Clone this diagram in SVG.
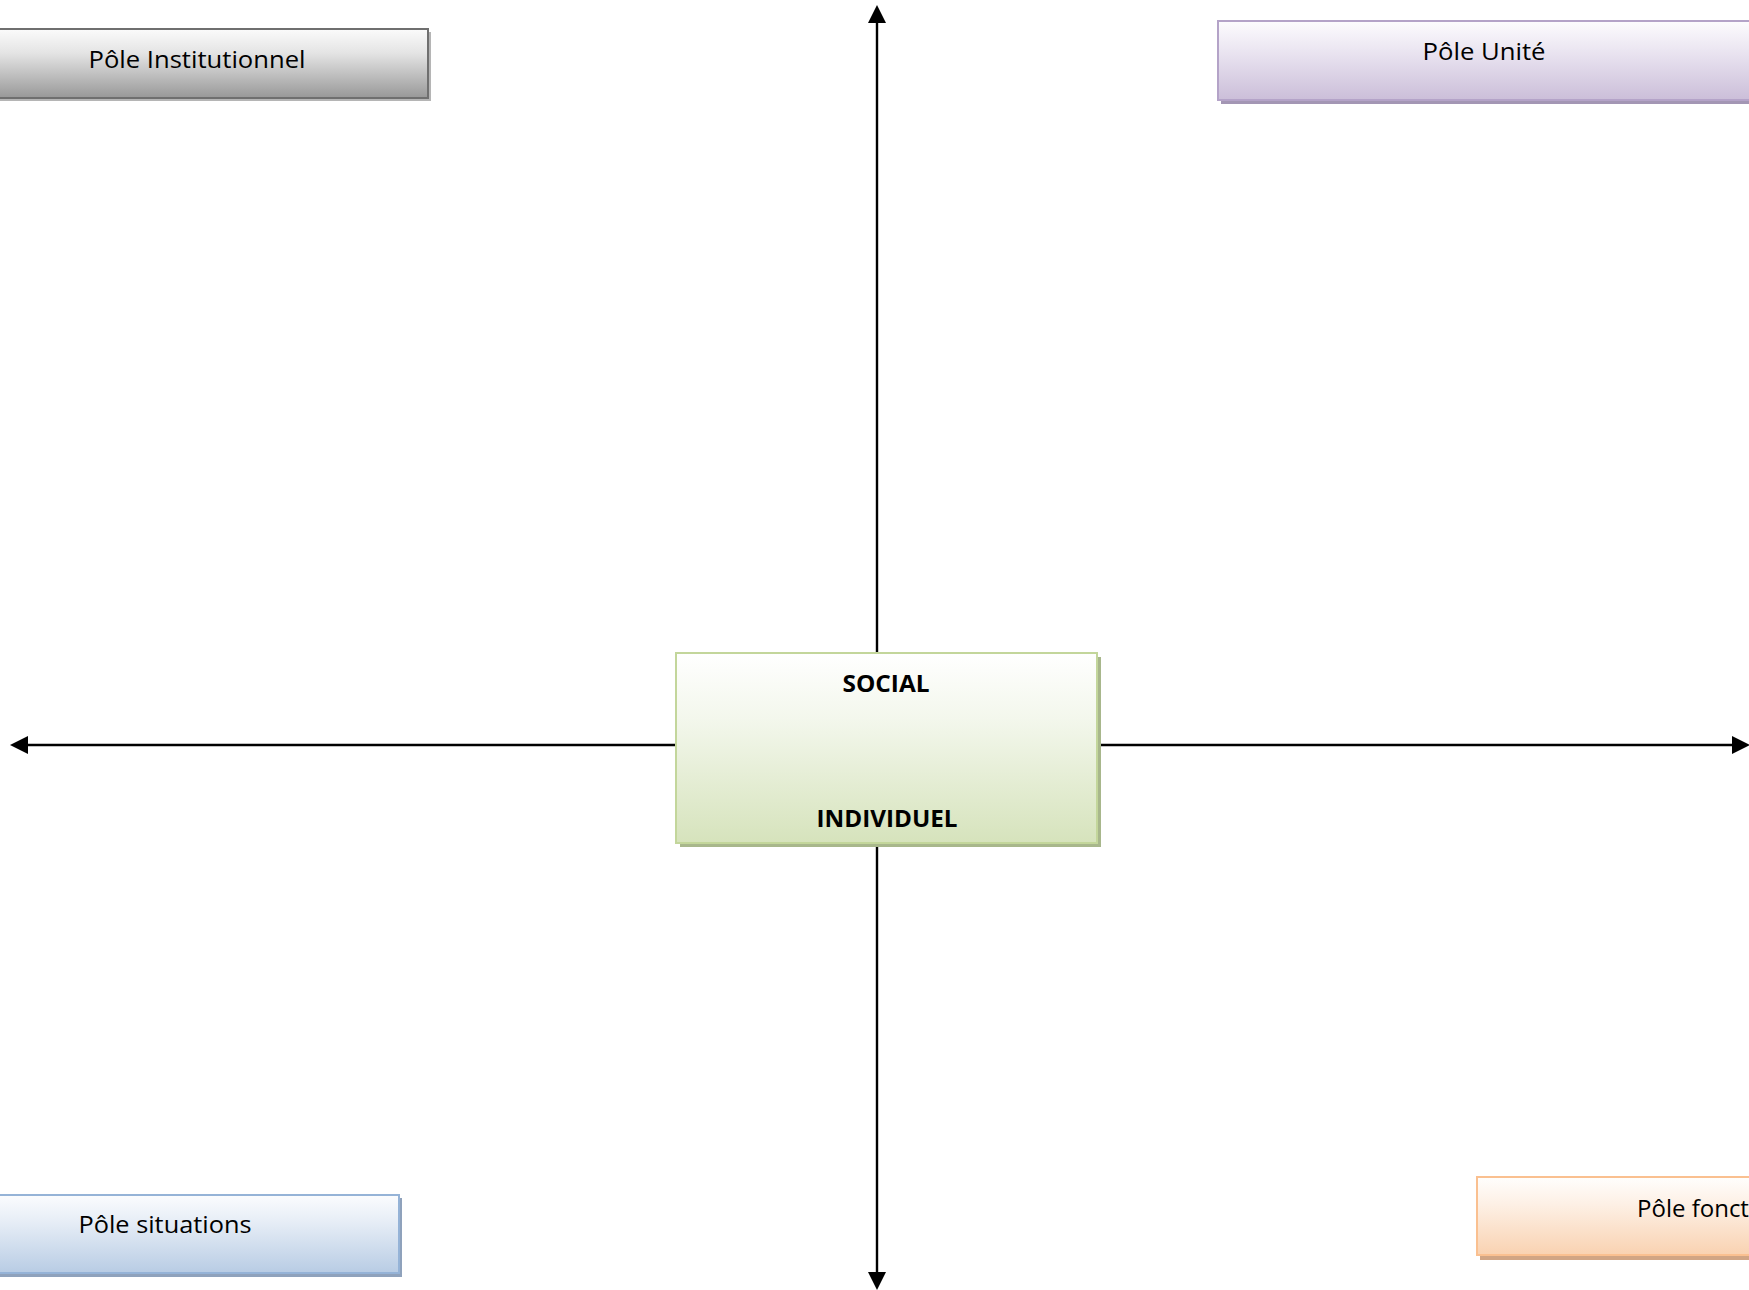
<svg xmlns="http://www.w3.org/2000/svg" width="1749" height="1290" viewBox="0 0 1749 1290">
<style>
.lbl{font-family:"Open Sans","Liberation Sans",sans-serif;font-size:24px;fill:#000}
.b{font-weight:bold}
.axis{stroke:#000;stroke-width:2.4;fill:none}
</style>
<defs>
<linearGradient id="gGray" x1="0" y1="0" x2="0" y2="1"><stop offset="0" stop-color="#fbfbfb"/><stop offset="0.35" stop-color="#e4e4e4"/><stop offset="1" stop-color="#989898"/></linearGradient>
<linearGradient id="gPurple" x1="0" y1="0" x2="0" y2="1"><stop offset="0" stop-color="#fdfcfe"/><stop offset="0.35" stop-color="#ece7f2"/><stop offset="1" stop-color="#cbbed9"/></linearGradient>
<linearGradient id="gGreen" x1="0" y1="0" x2="0" y2="1"><stop offset="0" stop-color="#ffffff"/><stop offset="0.35" stop-color="#f3f7ec"/><stop offset="1" stop-color="#d6e3bc"/></linearGradient>
<linearGradient id="gBlue" x1="0" y1="0" x2="0" y2="1"><stop offset="0" stop-color="#fbfcfe"/><stop offset="0.35" stop-color="#e6edf6"/><stop offset="1" stop-color="#b8cce4"/></linearGradient>
<linearGradient id="gOrange" x1="0" y1="0" x2="0" y2="1"><stop offset="0" stop-color="#fffefd"/><stop offset="0.35" stop-color="#fdf0e5"/><stop offset="1" stop-color="#f9d2b1"/></linearGradient>
<marker id="arr" markerUnits="userSpaceOnUse" markerWidth="18" markerHeight="18" refX="0" refY="8" orient="auto-start-reverse" viewBox="0 0 16 16"><path d="M0,0 L16,8 L0,16 Z" fill="#000"/></marker>
</defs>
<rect width="1749" height="1290" fill="#fff"/>
<g id="connectors">
<line class="axis" x1="877" y1="23" x2="877" y2="1272" marker-start="url(#arr)" marker-end="url(#arr)"/>
<line class="axis" x1="28" y1="745" x2="1732" y2="745" marker-start="url(#arr)" marker-end="url(#arr)"/>
</g>
<g id="pole-institutionnel">
<rect x="-8" y="32" width="439" height="69" fill="#b5b5b5"/>
<rect x="-11" y="29" width="439" height="69" fill="url(#gGray)" stroke="#6f6f6f" stroke-width="2"/>
<text class="lbl" x="197" y="68" text-anchor="middle" textLength="217" lengthAdjust="spacingAndGlyphs">Pôle Institutionnel</text>
</g>
<g id="pole-unite">
<rect x="1221" y="24" width="540" height="80" fill="#a396b4"/>
<rect x="1218" y="21" width="540" height="79" fill="url(#gPurple)" stroke="#b4a3c8" stroke-width="2"/>
<text class="lbl" x="1484" y="60" text-anchor="middle" textLength="123" lengthAdjust="spacingAndGlyphs">Pôle Unité</text>
</g>
<g id="center">
<rect x="680" y="657" width="421" height="190" fill="#a8b78c"/>
<rect x="676" y="653" width="421" height="190" fill="url(#gGreen)" stroke="#c3d69b" stroke-width="2"/>
<text class="lbl b" x="886" y="692" text-anchor="middle" textLength="87" lengthAdjust="spacingAndGlyphs">SOCIAL</text>
<text class="lbl b" x="887" y="827" text-anchor="middle" textLength="141" lengthAdjust="spacingAndGlyphs">INDIVIDUEL</text>
</g>
<g id="pole-situations">
<rect x="-8" y="1198" width="410" height="79" fill="#8fa2bc"/>
<rect x="-11" y="1195" width="410" height="78" fill="url(#gBlue)" stroke="#95b3d7" stroke-width="2"/>
<text class="lbl" x="165" y="1233" text-anchor="middle" textLength="173" lengthAdjust="spacingAndGlyphs">Pôle situations</text>
</g>
<g id="pole-fonct">
<rect x="1480" y="1181" width="290" height="79" fill="#d1a584"/>
<rect x="1477" y="1177" width="290" height="78" fill="url(#gOrange)" stroke="#fac090" stroke-width="2"/>
<text class="lbl" x="1637" y="1217">Pôle fonct</text>
</g>
</svg>
